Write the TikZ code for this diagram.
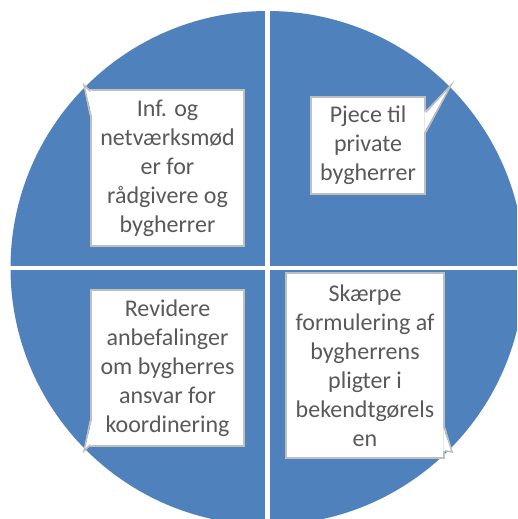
\documentclass[tikz,border=0pt]{standalone}
\usepackage{fontspec}
\setmainfont{Carlito}
\usepackage{xcolor}
\usetikzlibrary{positioning}

\definecolor{quadblue}{HTML}{4F81BD}
\definecolor{boxline}{HTML}{BFBFBF}
\definecolor{boxtext}{HTML}{595959}

\begin{document}
\begin{tikzpicture}[
  x=1pt,y=-1pt,
  callbox/.style={draw=boxline,line width=1.5pt,fill=white,inner sep=0pt,
                  align=center,text=boxtext,
                  font=\fontsize{24}{29}\selectfont},
  tail/.style={draw=boxline,line width=1.5pt,line join=miter},
  gapline/.style={white,line width=4.5pt}
]
\useasboundingbox (0,0) rectangle (517,519);
\clip (0,0) rectangle (517,519);
% circle in four quarters
\coordinate (mid) at (267.5,268);
\fill[quadblue] (mid) circle[radius=257pt];
\draw[gapline] (267.5,0) -- (267.5,519);
\draw[gapline] (0,268) -- (517,268);
% boxes
\node[callbox,minimum width=153pt,minimum height=156pt] (b1) at (167.5,168)
  {Inf. og\\netværksmød\\er for\\rådgivere og\\bygherrer};
\node[callbox,minimum width=114pt,minimum height=97pt] (b2) at (368,145.5)
  {Pjece til\\private\\bygherrer};
\node[callbox,minimum width=153pt,minimum height=156pt] (b3) at (167.5,368)
  {Revidere\\anbefalinger\\om bygherres\\ansvar for\\koordinering};
\node[callbox,minimum width=158pt,minimum height=185pt] (b4) at (365,365.5)
  {Skærpe\\formulering af\\bygherrens\\pligter i\\bekendtgørels\\en};
% callout tails
\coordinate (a1) at (84,85);
\coordinate (a2) at (451,85);
\coordinate (a3) at (84,451);
\coordinate (a4) at (452,452);
\fill[white] ([xshift=1.5pt,yshift=-2pt]b1.north west) -- (a1) -- ([xshift=1.5pt,yshift=-26pt]b1.north west) -- cycle;
\draw[tail] ([yshift=-2pt]b1.north west) -- (a1) -- ([yshift=-26pt]b1.north west);
\fill[white] ([xshift=-1.5pt,yshift=-16pt]b2.north east) -- (a2) -- ([xshift=-1.5pt,yshift=-36pt]b2.north east) -- cycle;
\draw[tail] ([yshift=-16pt]b2.north east) -- (a2) -- ([yshift=-36pt]b2.north east);
\fill[white] ([xshift=1.5pt,yshift=26pt]b3.south west) -- (a3) -- ([xshift=1.5pt,yshift=2pt]b3.south west) -- cycle;
\draw[tail] ([yshift=26pt]b3.south west) -- (a3) -- ([yshift=2pt]b3.south west);
\fill[white] ([xshift=-1.5pt,yshift=31pt]b4.south east) -- (a4) -- ([xshift=-1.5pt,yshift=8pt]b4.south east) -- cycle;
\draw[tail] ([yshift=31pt]b4.south east) -- (a4) -- ([yshift=8pt]b4.south east);
\end{tikzpicture}
\end{document}
